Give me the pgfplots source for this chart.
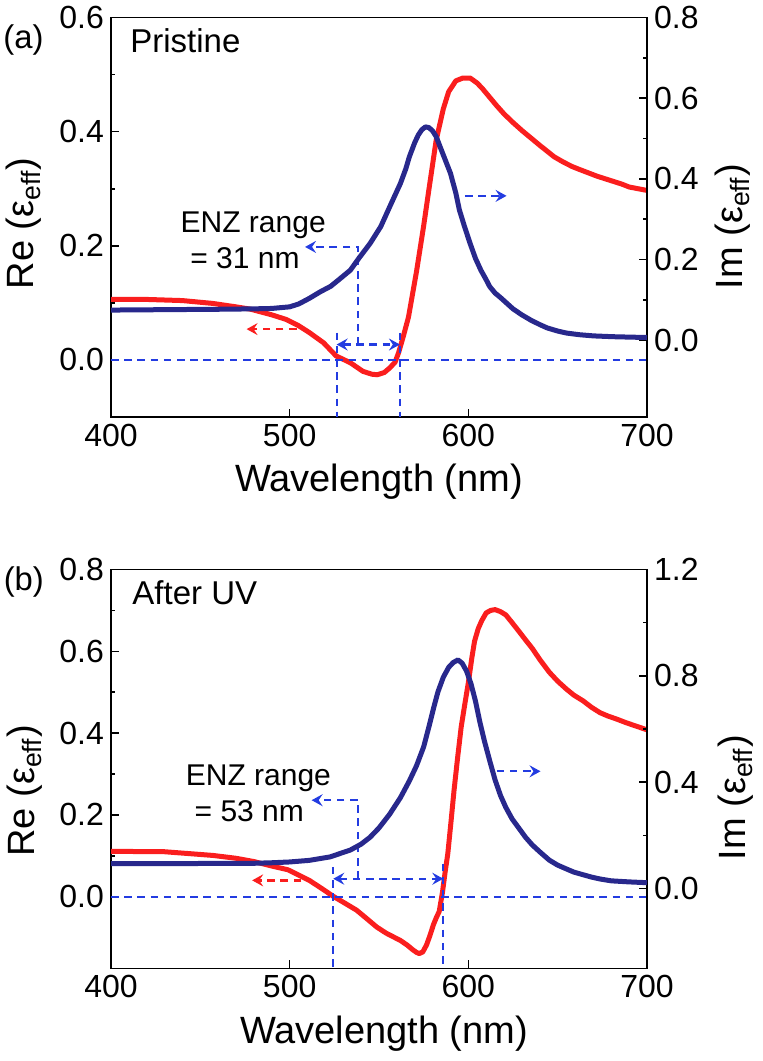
\documentclass[border=0pt]{standalone}
\usepackage{fontspec}
\setmainfont{Liberation Sans}
\usepackage{pgfplots}
\pgfplotsset{compat=1.18}
\usetikzlibrary{arrows.meta}

\definecolor{reCol}{RGB}{250,30,30}
\definecolor{imCol}{RGB}{40,40,140}
\definecolor{annCol}{RGB}{35,60,225}

\newcommand\labfont{\fontsize{19}{22}\selectfont}
\newcommand\tickfont{\fontsize{16}{18}\selectfont}

\tikzset{
  curve/.style={line width=2.5pt, line join=round},
  ann/.style={annCol, line width=1.15pt, dash pattern=on 3.8pt off 2.8pt},
  annr/.style={reCol, line width=1.15pt, dash pattern=on 3.8pt off 2.8pt},
  tip/.style={-{Stealth[length=5.5pt,width=6pt,inset=2pt]}},
  tips/.style={{Stealth[length=5.5pt,width=6pt,inset=2pt]}-{Stealth[length=5.5pt,width=6pt,inset=2pt]}},
}

\pgfplotsset{
  panel/.style={
    scale only axis,
    width=268pt,
    xmin=400, xmax=700,
    xtick={400,500,600,700},
    tick align=inside,
    major tick length=4pt,
    minor tick length=2.2pt,
    minor y tick num=1,
    axis line style={line width=0.8pt},
    every tick/.style={black, line width=0.8pt},
    tick label style={font=\tickfont},
    /pgf/number format/assume math mode=true,
    yticklabel style={/pgf/number format/fixed,
      /pgf/number format/fixed zerofill,
      /pgf/number format/precision=1},
  },
  reaxis/.style={panel, xtick pos=left, ytick pos=left},
  imaxis/.style={panel, axis y line*=right, axis x line=none},
}

\begin{document}
\begin{tikzpicture}
\useasboundingbox (0,0) rectangle (381pt,-530.5pt);

% ---------- (a) pristine ----------
\begin{axis}[reaxis, at={(55.5pt,-8.75pt)}, anchor=north west, height=199.75pt,
  ymin=-0.1, ymax=0.6, ytick={0,0.2,0.4,0.6}]
\addplot[reCol, curve] coordinates {
(400,0.106) (420,0.106) (440,0.104) (457,0.099) (470,0.093) (478,0.089)
(490,0.079) (498,0.071) (505,0.060) (511,0.048) (519,0.030) (526,0.007)
(534,-0.005) (541,-0.020) (546,-0.025) (549,-0.026) (553,-0.022) (556,-0.014)
(559,-0.004) (561,0.013) (563.5,0.040) (566.5,0.075) (571,0.155) (575,0.235)
(578,0.300) (582,0.385) (586,0.440) (589,0.470) (593,0.489) (597,0.494)
(601,0.494) (605,0.485) (608,0.475) (612,0.460) (616,0.445) (620,0.431)
(625,0.416) (630,0.402) (635,0.389) (640,0.376) (644,0.366) (648,0.356)
(653,0.347) (658,0.339) (662,0.334) (667,0.328) (672,0.322) (676,0.318)
(681,0.313) (686,0.308) (690,0.303) (695,0.300) (700,0.297)};
% zero line and ENZ markers
\draw[ann] (axis cs:400,0) -- (axis cs:700,0);
\draw[ann] (axis cs:526.3,0.048) -- (axis cs:526.3,-0.1);
\draw[ann] (axis cs:561.7,0.048) -- (axis cs:561.7,-0.1);
\draw[ann, tips] (axis cs:526.3,0.027) -- (axis cs:561.7,0.027);
\draw[ann, tip] (axis cs:538.4,0.027) -- (axis cs:538.4,0.198) -- (axis cs:508.6,0.198);
\draw[annr, tip] (axis cs:503.9,0.054) -- (axis cs:475.9,0.054);
\node[font=\fontsize{15}{18}\selectfont, anchor=base, inner sep=0] at (axis cs:479.6,0.223) {ENZ range};
\node[font=\fontsize{15}{18}\selectfont, anchor=base, inner sep=0] at (axis cs:475,0.160) {= 31 nm};
\node[font=\fontsize{16.5}{20}\selectfont, anchor=base west, inner sep=0] at (axis cs:410.6,0.539) {Pristine};
\end{axis}
\begin{axis}[imaxis, at={(55.5pt,-8.75pt)}, anchor=north west, height=199.75pt,
  ymin=-0.19, ymax=0.8, ytick={0,0.2,0.4,0.6,0.8}]
\addplot[imCol, curve] coordinates {
(400,0.075) (430,0.076) (460,0.077) (480,0.078) (490,0.079) (500,0.083)
(505,0.090) (511,0.104) (517,0.120) (523,0.134) (528,0.152) (534,0.174)
(539,0.205) (545,0.240) (551,0.282) (556,0.331) (562,0.389) (565,0.425)
(567,0.455) (570,0.490) (572,0.509) (574,0.522) (576,0.529) (578,0.527)
(580,0.519) (582,0.505) (584,0.482) (587,0.448) (590,0.414) (593,0.365)
(595,0.323) (598,0.280) (601,0.240) (604,0.203) (607,0.174) (610,0.150)
(612,0.133) (615,0.117) (618,0.106) (621,0.094) (625,0.078) (630,0.063)
(635,0.050) (640,0.039) (644,0.031) (650,0.023) (655,0.018) (662,0.014)
(670,0.011) (681,0.009) (690,0.008) (700,0.007)};
\draw[ann, tip] (axis cs:598.1,0.358) -- (axis cs:621.4,0.358);
\end{axis}

% ---------- (b) after UV ----------
\begin{axis}[reaxis, at={(55.5pt,-284.75pt)}, anchor=north west, height=199.4pt,
  ymin=-0.175, ymax=0.8, ytick={0,0.2,0.4,0.6,0.8}]
\addplot[reCol, curve] coordinates {
(400,0.111) (430,0.110) (457,0.101) (470,0.094) (480,0.086) (490,0.075)
(499,0.066) (505,0.053) (511,0.040) (518,0.020) (524.4,0.001) (531,-0.016)
(537.5,-0.033) (543,-0.053) (548.7,-0.074) (554,-0.089) (558,-0.098)
(562,-0.107) (565.7,-0.118) (569,-0.130) (571,-0.136) (572.5,-0.139)
(574.5,-0.135) (576.6,-0.118) (578.5,-0.095) (580.5,-0.068) (582,-0.052)
(583.7,-0.036) (585.5,0.010) (587,0.060) (588.5,0.105) (590,0.170)
(592,0.260) (594,0.340) (596,0.415) (598,0.470) (600,0.523) (602,0.585)
(603.5,0.625) (605.5,0.655) (607.5,0.675) (610,0.694) (612.5,0.700)
(615,0.702) (618,0.697) (621,0.689) (624.5,0.670) (628.3,0.649) (632,0.628)
(635.8,0.607) (640,0.580) (645.3,0.549) (650,0.527) (654.8,0.508)
(659,0.493) (664.2,0.479) (669,0.463) (673.7,0.450) (678,0.442)
(683.2,0.434) (688,0.426) (692.6,0.419) (696,0.414) (700,0.408)};
\draw[ann] (axis cs:400,0) -- (axis cs:700,0);
\draw[ann] (axis cs:524.4,0.073) -- (axis cs:524.4,-0.175);
\draw[ann] (axis cs:586,0.081) -- (axis cs:586,-0.175);
\draw[ann, tips] (axis cs:524.4,0.044) -- (axis cs:586,0.044);
\draw[ann, tip] (axis cs:538.4,0.044) -- (axis cs:538.4,0.236) -- (axis cs:512.3,0.236);
\draw[annr, tip] (axis cs:506.5,0.040) -- (axis cs:479,0.040);
\node[font=\fontsize{15}{18}\selectfont, anchor=base, inner sep=0] at (axis cs:482.5,0.273) {ENZ range};
\node[font=\fontsize{15}{18}\selectfont, anchor=base, inner sep=0] at (axis cs:477.4,0.184) {= 53 nm};
\node[font=\fontsize{16.5}{20}\selectfont, anchor=base west, inner sep=0] at (axis cs:411.8,0.714) {After UV};
\end{axis}
\begin{axis}[imaxis, at={(55.5pt,-284.75pt)}, anchor=north west, height=199.4pt,
  ymin=-0.3, ymax=1.2, ytick={0,0.4,0.8,1.2}]
\addplot[imCol, curve] coordinates {
(400,0.094) (440,0.094) (480,0.095) (490,0.097) (500,0.100) (511,0.106)
(522.6,0.119) (534,0.145) (540,0.167) (545,0.193) (550,0.228) (556,0.280)
(562,0.342) (567,0.405) (571,0.462) (575,0.533) (578,0.610) (580.6,0.680)
(583,0.740) (586,0.795) (589,0.832) (591.5,0.850) (594.2,0.860)
(596.5,0.848) (599,0.818) (601.5,0.770) (604,0.705) (606.5,0.625)
(609,0.555) (612,0.480) (615,0.408) (618,0.350) (621,0.305) (624.5,0.262)
(628.2,0.228) (632,0.193) (635.8,0.164) (640,0.138) (645.3,0.107)
(650,0.088) (654.8,0.074) (659,0.062) (664.2,0.052) (669,0.043)
(673.7,0.036) (680,0.029) (690,0.025) (700,0.022)};
\draw[ann, tip] (axis cs:615.8,0.441) -- (axis cs:640.4,0.441);
\end{axis}

% ---------- labels outside the axes ----------
\node[font=\fontsize{16.4}{20}\selectfont, anchor=base west, inner sep=0] at (1.5pt,-24pt) {(a)};
\node[font=\fontsize{16.4}{20}\selectfont, anchor=base west, inner sep=0] at (1.7pt,-295.3pt) {(b)};
\node[font=\labfont, rotate=90, anchor=base, inner sep=0] at (16.7pt,-111.7pt) {Re (ε\textsubscript{eff})};
\node[font=\labfont, rotate=90, anchor=base, inner sep=0] at (371pt,-113.4pt) {Im (ε\textsubscript{eff})};
\node[font=\labfont, rotate=90, anchor=base, inner sep=0] at (17pt,-395.4pt) {Re (ε\textsubscript{eff})};
\node[font=\labfont, rotate=90, anchor=base, inner sep=0] at (372.5pt,-398.8pt) {Im (ε\textsubscript{eff})};
\node[font=\labfont, anchor=base, inner sep=0] at (189.5pt,-245.5pt) {Wavelength (nm)};
\node[font=\labfont, anchor=base, inner sep=0] at (192pt,-521.6pt) {Wavelength (nm)};
\end{tikzpicture}
\end{document}
